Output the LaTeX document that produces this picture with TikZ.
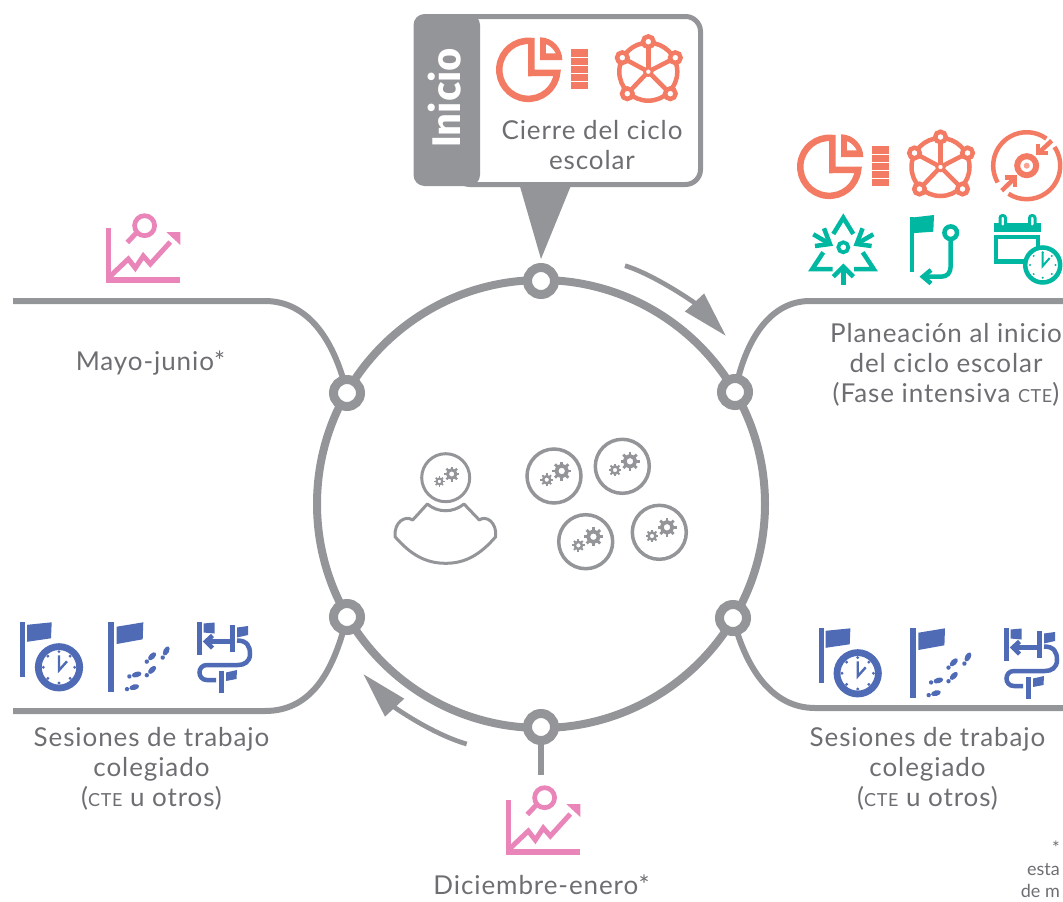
\documentclass[tikz,border=0pt]{standalone}
\usepackage{fontspec}
\setmainfont{Lato}[LetterSpace=3.5]
\newfontfamily\inifont{Fira Sans}
\usetikzlibrary{arrows.meta}
\definecolor{ring}{HTML}{939598}
\definecolor{txt}{HTML}{6D6E71}
\definecolor{coral}{HTML}{F47B63}
\definecolor{teal}{HTML}{00B8A2}
\definecolor{blue}{HTML}{4F6BB5}
\definecolor{pink}{HTML}{E985B9}
\tikzset{
  x=1pt,y=-1pt,
  spoke/.style={draw=ring,line width=6pt},
  hub/.style={circle,draw=ring,fill=white,line width=9pt,minimum size=27pt,inner sep=0pt},
  lab/.style={text=txt,font=\fontsize{26}{30}\selectfont,align=center,inner sep=0pt},
  note/.style={text=txt,font=\fontsize{18}{22}\selectfont\addfontfeature{LetterSpace=0},anchor=east,inner sep=0pt},
  flow/.style={draw=ring,line width=4.7pt,-{Triangle[length=46pt,width=25pt]}},
  piec/.pic={
    \draw[coral,line width=6.5pt] (3,-29) arc[start angle=-84,end angle=-354,radius=29] -- (3,3) -- cycle;
    \fill[coral] (11.7,-32.7) .. controls (24,-32.7) and (34,-22) .. (34,-10) -- (11.7,-10) -- cycle;
    \fill[white] (17.7,-25.7) .. controls (22,-24) and (25,-21) .. (27.3,-16.7) -- (17.7,-16.7) -- cycle;
    \fill[coral] (43,-21) rectangle (60,19);
    \foreach \yy in {-13,-5,3,11}{\draw[white,line width=1pt] (43,\yy) -- (60,\yy);}
  },
  netw/.pic={
    \draw[coral,line width=4.5pt] (0,0) circle[radius=29];
    \foreach \a/\b in {0/-30,-26/-14,27/-14,-21/22,22/22}{\draw[coral,line width=4.5pt] (0,0) -- (\a,\b);}
    \foreach \a/\b in {0/-30,-26/-14,27/-14,-21/22,22/22}{\draw[coral,fill=white,line width=4.5pt] (\a,\b) circle[radius=5.3];}
    \draw[coral,fill=white,line width=2.8pt] (0,0) circle[radius=3.8];
  },
  flagclock/.pic={
    \fill[blue] (-39,-45) rectangle (-34,10);
    \fill[blue] (-32,-42.5) -- (-7.3,-45) -- (-8,-29) -- (-32,-25.5) -- cycle;
    \draw[blue,fill=white,line width=6.8pt] (0,0) circle[radius=20.7];
    \foreach \t in {0,45,...,315}{\fill[blue] (\t:15.7) circle[radius=1.6];}
    \draw[blue,line width=2.4pt] (0,-12) -- (0,3) -- (8,-6);
  },
  flagsteps/.pic={
    \fill[blue] (0,0) rectangle (5.7,70);
    \fill[blue] (8.4,4.7) -- (35,0.3) -- (34.4,17.3) -- (8.4,22) -- cycle;
    \foreach \px/\py/\ang in {24/65.7/15,26.4/53/15,42.4/49.3/45,42.4/35.7/45,57/30.7/62}{
      \fill[blue,rotate around={\ang:(\px,\py)}] (\px+2,\py) ellipse[x radius=5,y radius=2.8];
      \fill[blue,rotate around={\ang:(\px,\py)}] (\px-5.5,\py) circle[radius=2.2];
    }
  },
  routeflags/.pic={
    \fill[blue] (0,0) rectangle (5,33);
    \fill[blue] (6.5,1.5) -- (17.5,0.5) -- (17.5,11.5) -- (6.5,10.5) -- cycle;
    \fill[blue] (33,3) rectangle (38,30);
    \fill[blue] (40,5.5) -- (51,4) -- (51,13) -- (40,15.5) -- cycle;
    \draw[blue,line width=4.5pt] (33,19.5) -- (10,19.5);
    \draw[blue,line width=4.5pt] (15.5,13.5) -- (9,19.5) -- (15.5,26);
    \draw[blue,line width=4.5pt] (40,18.5) .. controls (50,18.5) and (53,24) .. (53,32) .. controls (53,40) and (47,43) .. (41,43) -- (10,43) .. controls (0,43) and (0,58) .. (10,58) -- (19,58);
    \fill[blue] (22,49) rectangle (27,71);
    \fill[blue] (29,50.5) -- (40,48) -- (39.5,57) -- (29,59) -- cycle;
  },
  chartmag/.pic={
    \draw[pink,line width=5.3pt] (0,-52.5) -- (0,0) -- (71.5,0);
    \draw[pink,line width=5pt] (0,-2) -- (20,-21) -- (27,-12) -- (35,-24) -- (42,-16) -- (62,-38);
    \fill[pink] (58,-48) -- (72,-48) -- (72,-35) -- cycle;
    \draw[pink,line width=4.7pt] (36.3,-54.3) circle[radius=10];
    \draw[pink,line width=5pt] (28,-47) -- (19,-37.5);
  },
  bigpair/.pic={
    \draw[ring,line width=3.5pt] (0,0) circle[radius=27];
    \gearshape{7.7}{-5}{9.5}
    \gearshape{-7.3}{3.7}{6.3}
  },
}
\newcommand{\gearshape}[3]{%
  \draw[ring,line width=#3*0.4 pt] (#1,#2) circle[radius=#3*0.56];
  \foreach \t in {0,45,...,315}{\draw[ring,line width=#3*0.3 pt] (#1,#2) ++(\t:#3*0.6) -- ++(\t:#3*0.4);}
}
\begin{document}
\begin{tikzpicture}
\useasboundingbox (0,0) rectangle (1063,902);
\begin{scope}
\clip (0,0) rectangle (1063,902);
\coordinate (lua) at (13,301);
\coordinate (rua) at (1063,301);
\coordinate (lda) at (13,711);
\coordinate (rda) at (1063,708);
\coordinate (bot) at (541,775);
\coordinate (topc) at (541,281);
\coordinate (ruc) at (735,392);
\coordinate (rdc) at (733,618);
\coordinate (boc) at (541,727);
\coordinate (ldc) at (347,617);
\coordinate (luc) at (347,393);
\draw[spoke] (lua) -- (265,301) .. controls (305,301) and (333,335) .. (luc);
\draw[spoke] (rua) -- (810,301) .. controls (770,301) and (745,340) .. (ruc);
\draw[spoke] (lda) -- (265,711) .. controls (315,711) and (335,665) .. (ldc);
\draw[spoke] (rda) -- (815,708) .. controls (770,708) and (745,665) .. (rdc);
\draw[spoke] (bot) -- (boc);
\draw[ring,line width=8pt] (541,504) circle[radius=224];
\fill[ring] (519,183) -- (572,183) -- (541,259) -- cycle;
\node[hub] (top) at (topc) {};
\node[hub] (ru) at (ruc) {};
\node[hub] (rd) at (rdc) {};
\node[hub] (bo) at (boc) {};
\node[hub] (ld) at (ldc) {};
\node[hub] (lu) at (luc) {};
\draw[ring,fill=white,line width=5pt,rounded corners=15pt] (455,16.5) rectangle (700.5,184.5);
\fill[ring,rounded corners=11pt] (413.5,14) rectangle (480,186);
\node[rotate=90,text=white,font=\inifont\bfseries\fontsize{40}{40}\selectfont,inner sep=0pt] (ini) at (445,98) {Inicio};
\node[lab] (cierre) at (592,145) {Cierre del ciclo\\escolar};
% icons
\pic at (528.3,70) {piec};
\pic at (648.3,71.7) {netw};
\pic at (829.3,167) {piec};
\pic at (940.5,167) {netw};
% target
\begin{scope}[shift={(1026.7,165.7)}]
\draw[coral,line width=4.5pt] (-34:33.5) arc[start angle=-34,end angle=123,radius=33.5];
\draw[coral,line width=4.5pt] (150:33.5) arc[start angle=150,end angle=306,radius=33.5];
\draw[coral,line width=6pt] (0,0) circle[radius=9.5];
\fill[coral!70!white] (0,0) circle[radius=3];
\draw[coral,line width=4.5pt] (25,-25) -- (11,-12);
\draw[coral,line width=4.5pt] (11.5,-22) -- (11.5,-12.5) -- (21.5,-12.5);
\draw[coral,line width=4.5pt] (-25,25) -- (-11,11.5);
\draw[coral,line width=4.5pt] (-11.5,21.5) -- (-11.5,12) -- (-21.5,12);
\end{scope}
% triangle arrows
\draw[teal,line width=3.8pt] (843.3,247.3) circle[radius=5];
\draw[teal,line width=4.5pt] (833.3,234) -- (843.3,217.7) -- (853.3,234);
\draw[teal,line width=4.5pt] (823.3,252.3) -- (812.3,269) -- (832.7,269);
\draw[teal,line width=4.5pt] (862.7,252.3) -- (873.7,269) -- (854,269);
\draw[teal,line width=4.5pt] (843.3,285) -- (843.3,268);
\draw[teal,line width=4.5pt] (833.3,276.7) -- (843.3,266.7) -- (853.3,276.7);
\draw[teal,line width=4.5pt] (813.3,234.3) -- (830,244);
\draw[teal,line width=4.5pt] (824,228.3) -- (830,244) -- (815,246);
\draw[teal,line width=4.5pt] (873.3,234.3) -- (856.6,244);
\draw[teal,line width=4.5pt] (862.6,228.3) -- (856.6,244) -- (871.6,246);
% flag route
\fill[teal] (910,217) rectangle (913.5,271.5);
\fill[teal] (911,217.7) -- (934,215) -- (933.3,231.7) -- (911,233.3) -- cycle;
\draw[teal,line width=4.5pt] (950.7,232.7) circle[radius=6.3];
\draw[teal,line width=4.5pt] (950.7,239) -- (950.7,266) .. controls (950.7,273) and (947,276.7) .. (941,276.7) -- (924,276.7);
\draw[teal,line width=4.5pt] (931,270) -- (923,276.7) -- (931,283.5);
% calendar clock
\fill[teal] (994,222.7) rectangle (1040.7,231.7);
\draw[teal,fill=white,line width=3pt,rounded corners=2.5pt] (1000,215.5) rectangle (1005.5,227);
\draw[teal,fill=white,line width=3pt,rounded corners=2.5pt] (1029.5,215.5) rectangle (1035,227);
\draw[teal,line width=4.5pt] (1038,248) -- (1038,237) -- (996,237) -- (996,261.5) -- (1024,261.5);
\begin{scope}[shift={(1042.7,265)}]
\draw[teal,fill=white,line width=4.5pt] (0,0) circle[radius=17.5];
\foreach \t in {0,45,...,315}{\fill[teal] (\t:12.8) circle[radius=1.1];}
\draw[teal,line width=2pt] (0,-13) -- (0,1) -- (7,-7);
\end{scope}
% chart icons
\pic at (108.3,280) {chartmag};
\pic at (508.3,852) {chartmag};
% blue icons
\pic at (59,667.3) {flagclock};
\pic at (108.3,622) {flagsteps};
\pic at (197,622) {routeflags};
\pic at (857.7,673.3) {flagclock};
\pic at (910,628) {flagsteps};
\pic at (1004,628) {routeflags};
% person and heads
\draw[ring,line width=3pt] (445.7,477.7) circle[radius=24];
\gearshape{451.7}{474}{7.5}
\gearshape{439.4}{481.4}{5.2}
\draw[ring,line width=3pt,line join=round] (427.3,504) .. controls (438,513) and (453,513) .. (464,504) -- (479.3,520) .. controls (486,515) and (497,522) .. (495.7,536.7) .. controls (480,555) and (465,563.3) .. (445.7,563.3) .. controls (426,563.3) and (411,555) .. (395,536.7) .. controls (394,522) and (405,515) .. (412.7,520) -- cycle;
\pic at (554,476) {bigpair};
\pic at (622.3,466.3) {bigpair};
\pic at (585.7,541.7) {bigpair};
\pic at (659.3,532.3) {bigpair};
% flow arrows
\coordinate (fa) at (625,265.7);
\coordinate (fb) at (726,336);
\coordinate (fc) at (466.7,744);
\coordinate (fd) at (363.3,674);
\draw[flow] (fa) .. controls (655,275) and (695,303) .. (fb);
\draw[flow] (fc) .. controls (432,734) and (394,707) .. (fd);
% labels
\node[lab] (l1) at (150.5,363) {Mayo-junio*};
\node[lab] (l2) at (946,365) {Planeación al inicio\\del ciclo escolar\\(Fase intensiva {\fontsize{18}{20}\selectfont CTE})};
\node[lab] (l3) at (151.5,769) {Sesiones de trabajo\\colegiado\\({\fontsize{18}{20}\selectfont CTE} u otros)};
\node[lab] (l4) at (927.5,769) {Sesiones de trabajo\\colegiado\\({\fontsize{18}{20}\selectfont CTE} u otros)};
\node[lab] (l5) at (541.5,885) {Diciembre-enero*};
\node[note] (n1) at (1060,848) {*};
\node[note] (n2) at (1060,870) {esta};
\node[note] (n3) at (1060,891) {de m};
\end{scope}
\end{tikzpicture}
\end{document}
